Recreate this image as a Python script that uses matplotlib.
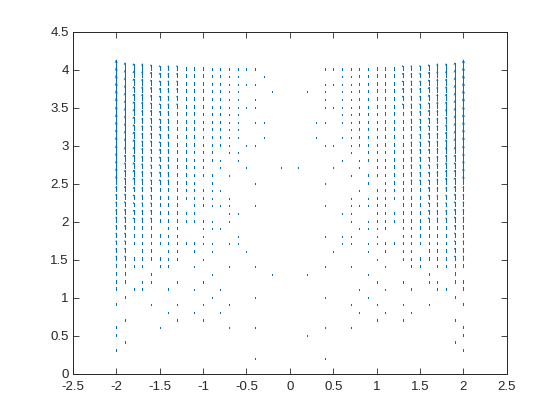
import numpy as np
import matplotlib
matplotlib.use('Agg')
import matplotlib.pyplot as plt
from matplotlib.collections import LineCollection

# arrow bases: columns (x) and rows (y) of the sampling grid
x_cols = [-2.0, -1.9, -1.8, -1.7, -1.6, -1.5, -1.4, -1.3, -1.2, -1.1,
          -1.0, -0.9, -0.8, -0.7, -0.6, -0.5, -0.4, -0.3, -0.2, -0.1,
          0.0,
          0.1, 0.2, 0.3, 0.4, 0.5, 0.6, 0.7, 0.8, 0.9, 1.0,
          1.1, 1.2, 1.3, 1.4, 1.5, 1.6, 1.7, 1.8, 1.9, 2.0]
y_rows = [4.0, 3.9, 3.8, 3.7, 3.6, 3.5, 3.4, 3.3, 3.2, 3.1,
          3.0, 2.9, 2.8, 2.7, 2.6, 2.5, 2.4, 2.3, 2.2, 2.1,
          2.0, 1.9, 1.8, 1.7, 1.6, 1.5, 1.4, 1.3, 1.2, 1.1,
          1.0, 0.9, 0.8, 0.7, 0.6, 0.5, 0.4, 0.3, 0.2]

# '.' = no arrow, digit = arrow length class
len_unit = 0.0125
dot_len = 0.014
arrow_map = [
    "96554333222110000..." + "." + "...00001122233345569",  # 4.0
    "965543332221100..0.." + "." + ".....001122233345569",  # 3.9
    "96554333222110000..." + "." + "...00001122233345569",  # 3.8
    "965543332221100...0." + "." + ".0.0.001122233345569",  # 3.7
    "965543332221100.0..." + "." + "...0.001122233345569",  # 3.6
    "96554333222110000..." + "." + "...00001122233345569",  # 3.5
    "865443322211100....." + "." + ".....001112223344568",  # 3.4
    "865443322211100.00.." + "." + "..00.001112223344568",  # 3.3
    "865443322211100....." + "." + "......01112223344568",  # 3.2
    "865443322211100..0.." + "." + "..0..001112223344568",  # 3.1
    "86544332221110.00..." + "." + "...00.01112223344568",  # 3.0
    "755433322111.00....." + "." + "......0.111223334557",  # 2.9
    "7554333221110.0....." + "." + ".....0.0111223334557",  # 2.8
    "75543332211.0..0...0" + "." + "0...0..0.11223334557",  # 2.7
    "755433322111.0......" + "." + "......0.111223334557",  # 2.6
    "7554333221.1....0..." + "." + "...0....1.1223334557",  # 2.5
    "4433322211100......." + "." + ".......0.11122233344",  # 2.4
    "443332221110.0......" + "." + "......0.011122233344",  # 2.3
    "44333222.11000..0..." + "." + "...0..00011.22233344",  # 2.2
    "4433322211...00....." + "." + ".....00..11122233344",  # 2.1
    "443332221110.0......" + "." + "......0.011122233344",  # 2.0
    "33222.11..000......." + "." + ".......0001.11222233",  # 1.9
    "33222211..0...0....." + "." + "...0.00..0..11222233",  # 1.8
    "332222111100.00....." + "." + ".....00.001111222233",  # 1.7
    "33.22.11.1.0...0...." + "." + "....0...0.1.11.22233",  # 1.6
    "33222211..0........." + "." + ".........0..11222233",  # 1.5
    "2211.11..0...0..0..." + "." + "...0..0...0..11.1122",  # 1.4
    "22..1......0......0." + "." + ".0......0......1..2.",  # 1.3
    "22.11..0..0........." + "." + ".........0..0..11.22",  # 1.2
    "2.11..1..0..0......." + "." + ".......0..0..1..11.2",  # 1.1
    ".1.........0....0..." + "." + "...0....0.........1.",  # 1.0
    "1...0..0..0..0......" + "." + "......0..0..0..0...1",  # 0.9
    "......0..0..0......." + "." + ".......0..0..0......",  # 0.8
    ".1.....0..0........." + "." + ".........0..0.....1.",  # 0.7
    "1....0.......0..0..." + "." + "...0..0............1",  # 0.6
    "1..................." + "." + ".0.................1",  # 0.5
    ".1.................." + "." + "..................1.",  # 0.4
    "1..................." + "." + "...................1",  # 0.3
    "................0..." + "." + "...0................",  # 0.2
]

xs, ys, vs = [], [], []
for y, row in zip(y_rows, arrow_map):
    for x, ch in zip(x_cols, row):
        if ch != '.':
            xs.append(x)
            ys.append(y)
            vs.append(int(ch) * len_unit + dot_len)

# shafts and MATLAB-style line heads (alpha = beta = 0.33)
shafts, heads = [], []
for x, y, v in zip(xs, ys, vs):
    tip = y + v
    shafts.append([(x, y), (x, tip)])
    if v > 0.04:
        hw = 0.33 * 0.33 * v
        hl = 0.33 * v
        heads.append([(x - hw, tip - hl), (x, tip), (x + hw, tip - hl)])

plt.rcParams['font.family'] = ['Liberation Sans', 'DejaVu Sans']
plt.rcParams['axes.unicode_minus'] = False

fig = plt.figure(figsize=(5.6, 4.2), dpi=100)
ax = fig.add_axes([0.13, 0.11, 0.775, 0.815])

blue = '#0072BD'
ax.add_collection(LineCollection(shafts, colors=blue, linewidths=0.6,
                                 antialiaseds=False))
ax.add_collection(LineCollection(heads, colors=blue, linewidths=0.5,
                                 antialiaseds=True))

ax.set_xlim(-2.5, 2.5)
ax.set_ylim(0, 4.5)
ax.set_xticks([-2.5, -2, -1.5, -1, -0.5, 0, 0.5, 1, 1.5, 2, 2.5])
ax.set_yticks([0, 0.5, 1, 1.5, 2, 2.5, 3, 3.5, 4, 4.5])
ax.set_xticklabels(['-2.5', '-2', '-1.5', '-1', '-0.5', '0', '0.5', '1', '1.5', '2', '2.5'])
ax.set_yticklabels(['0', '0.5', '1', '1.5', '2', '2.5', '3', '3.5', '4', '4.5'])
ax.tick_params(direction='in', top=True, right=True, length=4, width=0.6,
               labelsize=9.5, colors='#262626')
ax.tick_params(axis='x', pad=5)
ax.tick_params(axis='y', pad=3)
for s in ax.spines.values():
    s.set_color('#262626')
    s.set_linewidth(0.7)

fig.savefig('out.png', dpi=100)
